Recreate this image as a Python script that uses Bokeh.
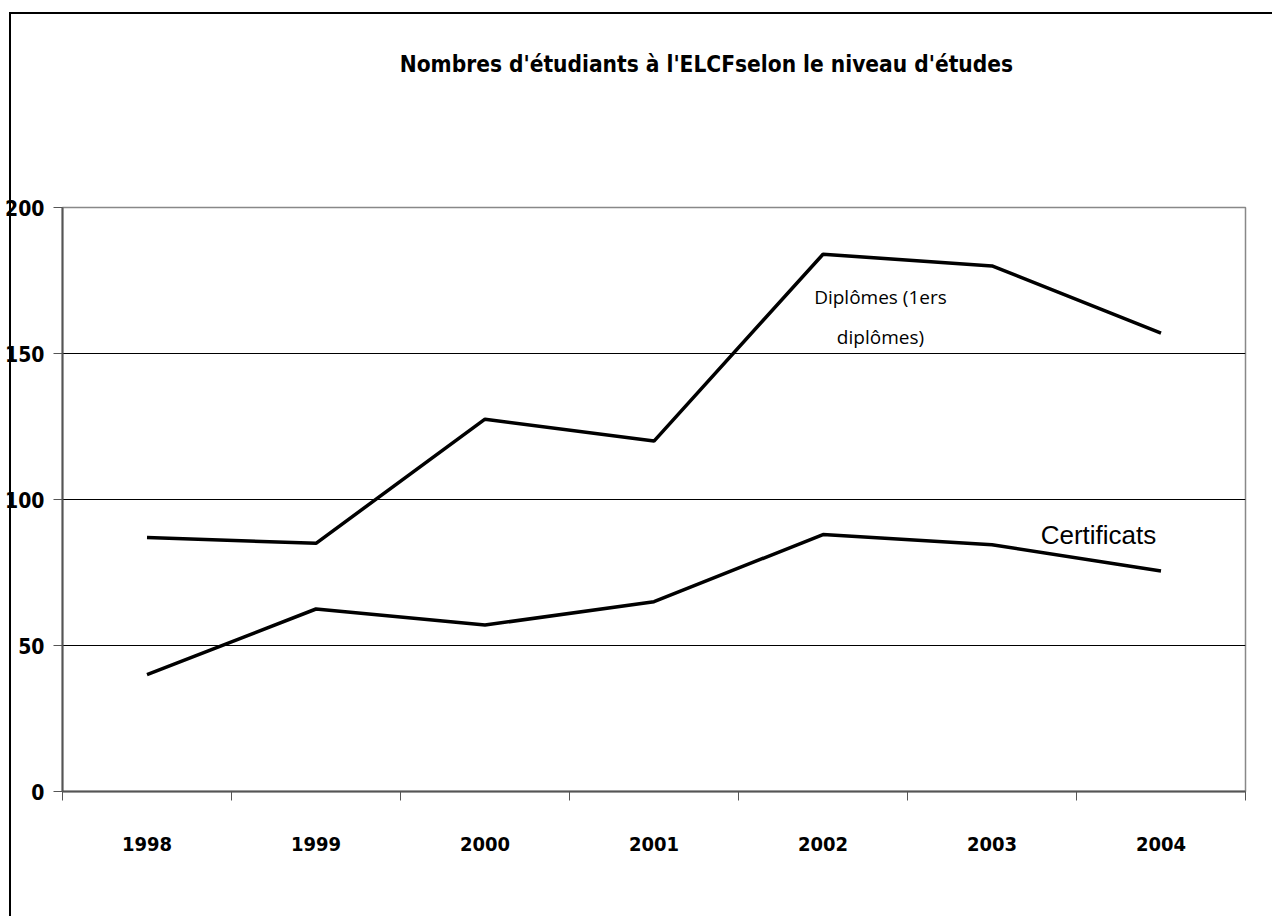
from bokeh.plotting import figure
from bokeh.models import FixedTicker, LinearAxis, Label, Range1d
from bokeh.embed import file_html
from bokeh.resources import INLINE

years = ["1998", "1999", "2000", "2001", "2002", "2003", "2004"]
diplomes = [87, 85, 127.5, 120, 184, 180, 157]
certificats = [40, 62.5, 57, 65, 88, 84.5, 75.5]
y_ticks = [0, 50, 100, 150, 200]
grid_ticks = [50, 100, 150]
title_text = "Nombres d'étudiants à l'ELCFselon le niveau d'études"
label_dip_1 = "Diplômes (1ers"
label_dip_2 = "diplômes)"
label_cert = "Certificats"

n = len(years)
xc = [i + 0.5 for i in range(n)]
bounds = list(range(n + 1))
title_x = 3.81

COND = "DejaVu Sans Condensed"

p = figure(width=1272, height=916, x_range=Range1d(0, n), y_range=Range1d(0, 200),
           output_backend="svg", toolbar_location=None,
           min_border_left=62, min_border_right=27, min_border_top=207, min_border_bottom=125)
p.styles = {"background": "linear-gradient(#000,#000) 9px 12px / 2px 100% no-repeat, "
                          "linear-gradient(#000,#000) 9px 12px / 100% 2px no-repeat, #fff"}
p.background_fill_color = "white"
p.border_fill_color = None
p.outline_line_color = "#888888"
p.outline_line_width = 1.5

# y axis
p.yaxis.ticker = FixedTicker(ticks=y_ticks)
p.yaxis.major_tick_in = 0
p.yaxis.major_tick_out = 9
p.yaxis.minor_tick_line_color = None
p.yaxis.axis_line_color = "#555555"
p.yaxis.axis_line_width = 2
p.yaxis.major_tick_line_color = "#555555"
p.yaxis.major_label_text_font = COND
p.yaxis.major_label_text_font_style = "bold"
p.yaxis.major_label_text_font_size = "21px"
p.yaxis.major_label_text_color = "black"
p.yaxis.major_label_standoff = 9

# x axis: labels at category centres, minor ticks at boundaries
xa = p.xaxis[0]
xa.ticker = FixedTicker(ticks=xc, minor_ticks=bounds)
xa.major_label_overrides = {c: y for c, y in zip(xc, years)}
xa.major_tick_in = 0
xa.major_tick_out = 0
xa.major_tick_line_color = None
xa.minor_tick_in = 0
xa.minor_tick_out = 9
xa.minor_tick_line_color = "#555555"
xa.axis_line_color = "#555555"
xa.axis_line_width = 2
xa.major_label_text_font = COND
xa.major_label_text_font_style = "bold"
xa.major_label_text_font_size = "20px"
xa.major_label_text_color = "black"
xa.major_label_standoff = 36

# title as a tick label of an invisible axis above the frame
ta = LinearAxis(ticker=FixedTicker(ticks=[title_x]),
                major_label_overrides={title_x: title_text})
ta.axis_line_color = None
ta.major_tick_line_color = None
ta.minor_tick_line_color = None
ta.major_tick_out = 0
ta.major_tick_in = 0
ta.major_label_text_font = COND
ta.major_label_text_font_style = "bold"
ta.major_label_text_font_size = "22.5px"
ta.major_label_text_color = "black"
ta.major_label_standoff = 131
p.add_layout(ta, "above")

p.xgrid.visible = False
p.ygrid.ticker = FixedTicker(ticks=grid_ticks)
p.ygrid.grid_line_color = "black"
p.ygrid.grid_line_alpha = 1
p.ygrid.grid_line_width = 1

p.line(xc, diplomes, line_width=3.5, line_color="black")
p.line(xc, certificats, line_width=3.5, line_color="black")

p.add_layout(Label(x=4.84, y=169.2, text=label_dip_1, text_align="center", text_baseline="middle",
                   text_font="Open Sans", text_font_size="19px", text_color="black"))
p.add_layout(Label(x=4.84, y=155.5, text=label_dip_2, text_align="center", text_baseline="middle",
                   text_font="Open Sans", text_font_size="19px", text_color="black"))
p.add_layout(Label(x=6.13, y=88, text=label_cert, text_align="center", text_baseline="middle",
                   text_font="Liberation Sans", text_font_size="26px", text_color="black"))

open("out.html", "w").write(file_html(p, INLINE))
